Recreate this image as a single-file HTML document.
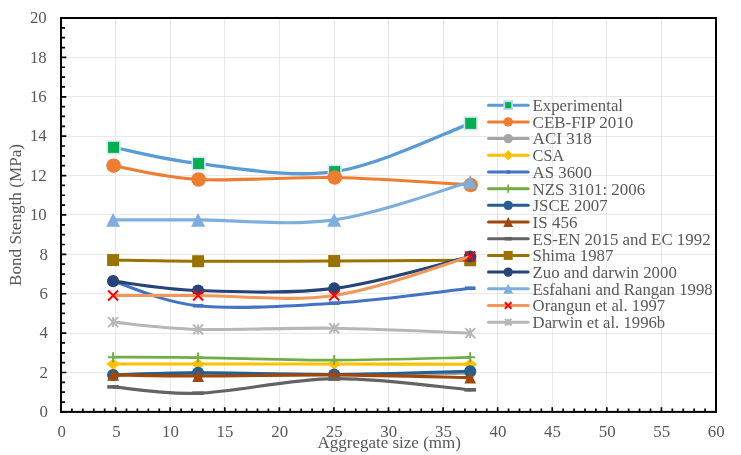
<!DOCTYPE html>
<html><head><meta charset="utf-8"><title>Bond Strength vs Aggregate size</title>
<style>html,body{margin:0;padding:0;background:#fff}svg{display:block}</style></head>
<body>
<svg width="741" height="455" viewBox="0 0 741 455" font-family="'Liberation Serif', serif" font-size="16.2" fill="#595959">
<rect width="741" height="455" fill="#fff"/>
<path d="M115.50,18.00 V411.90 M170.50,18.00 V411.90 M224.50,18.00 V411.90 M279.50,18.00 V411.90 M334.50,18.00 V411.90 M388.50,18.00 V411.90 M443.50,18.00 V411.90 M497.50,18.00 V411.90 M552.50,18.00 V411.90 M606.50,18.00 V411.90 M661.50,18.00 V411.90 M61.00,372.50 H716.00 M61.00,333.50 H716.00 M61.00,293.50 H716.00 M61.00,254.50 H716.00 M61.00,214.50 H716.00 M61.00,175.50 H716.00 M61.00,136.50 H716.00 M61.00,96.50 H716.00 M61.00,57.50 H716.00" stroke="#E8E8E8" stroke-width="1" fill="none"/>
<path d="M113.60,147.40 C127.77,150.09 161.75,159.51 198.60,163.55 C235.45,167.58 289.35,178.32 334.70,171.62 C380.05,164.92 448.03,131.41 470.70,123.37" stroke="#5B9BD5" stroke-width="3.3" fill="none" stroke-linecap="round" stroke-linejoin="round"/>
<rect x="107.30" y="141.10" width="12.60" height="12.60" fill="#00B050" stroke="#D3E4F4" stroke-width="1.6"/>
<rect x="192.30" y="157.25" width="12.60" height="12.60" fill="#00B050" stroke="#D3E4F4" stroke-width="1.6"/>
<rect x="328.40" y="165.32" width="12.60" height="12.60" fill="#00B050" stroke="#D3E4F4" stroke-width="1.6"/>
<rect x="464.40" y="117.07" width="12.60" height="12.60" fill="#00B050" stroke="#D3E4F4" stroke-width="1.6"/>
<path d="M113.60,165.71 C127.77,168.01 161.75,177.53 198.60,179.50 C235.45,181.47 289.35,176.61 334.70,177.53 C380.05,178.45 448.03,183.77 470.70,185.01" stroke="#ED7D31" stroke-width="3.1" fill="none" stroke-linecap="round" stroke-linejoin="round"/>
<circle cx="113.60" cy="165.71" r="7.30" fill="#ED7D31"/>
<circle cx="198.60" cy="179.50" r="7.30" fill="#ED7D31"/>
<circle cx="334.70" cy="177.53" r="7.30" fill="#ED7D31"/>
<circle cx="470.70" cy="185.01" r="7.30" fill="#ED7D31"/>
<path d="M113.10,374.87 C127.27,374.55 161.25,372.97 198.10,372.90 C234.95,372.84 288.85,374.45 334.20,374.48 C379.55,374.51 447.53,373.33 470.20,373.10" stroke="#A5A5A5" stroke-width="3.1" fill="none" stroke-linecap="round" stroke-linejoin="round"/>
<circle cx="113.10" cy="374.87" r="5.50" fill="#A5A5A5"/>
<circle cx="198.10" cy="372.90" r="5.50" fill="#A5A5A5"/>
<circle cx="334.20" cy="374.48" r="5.50" fill="#A5A5A5"/>
<circle cx="470.20" cy="373.10" r="5.50" fill="#A5A5A5"/>
<path d="M113.10,364.04 C127.27,364.04 161.25,364.04 198.10,364.04 C234.95,364.04 288.85,364.01 334.20,364.04 C379.55,364.07 447.53,364.21 470.20,364.24" stroke="#FFC000" stroke-width="3.1" fill="none" stroke-linecap="round" stroke-linejoin="round"/>
<polygon points="106.20,364.04 113.10,358.64 120.00,364.04 113.10,369.44" fill="#FFC000"/>
<polygon points="191.20,364.04 198.10,358.64 205.00,364.04 198.10,369.44" fill="#FFC000"/>
<polygon points="327.30,364.04 334.20,358.64 341.10,364.04 334.20,369.44" fill="#FFC000"/>
<polygon points="463.30,364.24 470.20,358.84 477.10,364.24 470.20,369.64" fill="#FFC000"/>
<path d="M113.10,281.13 C127.27,285.23 161.25,302.07 198.10,305.74 C234.95,309.42 288.85,306.11 334.20,303.18 C379.55,300.26 447.53,290.71 470.20,288.22" stroke="#4472C4" stroke-width="3.1" fill="none" stroke-linecap="round" stroke-linejoin="round"/>
<rect x="107.80" y="279.33" width="10.60" height="3.60" fill="#4472C4"/>
<rect x="192.80" y="303.94" width="10.60" height="3.60" fill="#4472C4"/>
<rect x="328.90" y="301.38" width="10.60" height="3.60" fill="#4472C4"/>
<rect x="464.90" y="286.42" width="10.60" height="3.60" fill="#4472C4"/>
<path d="M113.10,357.15 C127.27,357.21 161.25,357.05 198.10,357.54 C234.95,358.03 288.85,360.13 334.20,360.10 C379.55,360.07 447.53,357.80 470.20,357.34" stroke="#70AD47" stroke-width="2.7" fill="none" stroke-linecap="round" stroke-linejoin="round"/>
<path d="M108.10,357.15 H118.10 M113.10,352.15 V362.15" stroke="#70AD47" stroke-width="2.0" fill="none"/>
<path d="M193.10,357.54 H203.10 M198.10,352.54 V362.54" stroke="#70AD47" stroke-width="2.0" fill="none"/>
<path d="M329.20,360.10 H339.20 M334.20,355.10 V365.10" stroke="#70AD47" stroke-width="2.0" fill="none"/>
<path d="M465.20,357.34 H475.20 M470.20,352.34 V362.34" stroke="#70AD47" stroke-width="2.0" fill="none"/>
<path d="M113.10,375.07 C127.27,374.71 161.25,373.00 198.10,372.90 C234.95,372.81 288.85,374.74 334.20,374.48 C379.55,374.22 447.53,371.85 470.20,371.33" stroke="#255E91" stroke-width="3.1" fill="none" stroke-linecap="round" stroke-linejoin="round"/>
<circle cx="113.10" cy="375.07" r="6.05" fill="#255E91"/>
<circle cx="198.10" cy="372.90" r="6.05" fill="#255E91"/>
<circle cx="334.20" cy="374.48" r="6.05" fill="#255E91"/>
<circle cx="470.20" cy="371.33" r="6.05" fill="#255E91"/>
<path d="M113.10,374.87 C127.27,375.07 161.25,376.06 198.10,376.06 C234.95,376.06 288.85,374.61 334.20,374.87 C379.55,375.14 447.53,377.17 470.20,377.63" stroke="#9E480E" stroke-width="3.1" fill="none" stroke-linecap="round" stroke-linejoin="round"/>
<polygon points="113.10,368.92 119.00,380.82 107.20,380.82" fill="#9E480E"/>
<polygon points="198.10,370.11 204.00,382.01 192.20,382.01" fill="#9E480E"/>
<polygon points="334.20,368.92 340.10,380.82 328.30,380.82" fill="#9E480E"/>
<polygon points="470.20,371.68 476.10,383.58 464.30,383.58" fill="#9E480E"/>
<path d="M113.10,386.89 C127.27,387.94 161.25,394.57 198.10,393.19 C234.95,391.81 288.85,379.17 334.20,378.62 C379.55,378.06 447.53,387.97 470.20,389.84" stroke="#636363" stroke-width="3.1" fill="none" stroke-linecap="round" stroke-linejoin="round"/>
<rect x="107.30" y="385.09" width="11.60" height="3.60" fill="#636363"/>
<rect x="192.30" y="391.39" width="11.60" height="3.60" fill="#636363"/>
<rect x="328.40" y="376.82" width="11.60" height="3.60" fill="#636363"/>
<rect x="464.40" y="388.04" width="11.60" height="3.60" fill="#636363"/>
<path d="M113.10,260.05 C127.27,260.25 161.25,261.07 198.10,261.23 C234.95,261.40 288.85,261.20 334.20,261.04 C379.55,260.87 447.53,260.38 470.20,260.25" stroke="#997300" stroke-width="3.1" fill="none" stroke-linecap="round" stroke-linejoin="round"/>
<rect x="107.10" y="254.05" width="12.00" height="12.00" fill="#997300"/>
<rect x="192.10" y="255.23" width="12.00" height="12.00" fill="#997300"/>
<rect x="328.20" y="255.04" width="12.00" height="12.00" fill="#997300"/>
<rect x="464.20" y="254.25" width="12.00" height="12.00" fill="#997300"/>
<path d="M113.10,281.13 C127.27,282.70 161.25,289.36 198.10,290.58 C234.95,291.79 288.85,294.09 334.20,288.41 C379.55,282.73 447.53,261.82 470.20,256.51" stroke="#264478" stroke-width="3.1" fill="none" stroke-linecap="round" stroke-linejoin="round"/>
<circle cx="113.10" cy="281.13" r="6.05" fill="#264478"/>
<circle cx="198.10" cy="290.58" r="6.05" fill="#264478"/>
<circle cx="334.20" cy="288.41" r="6.05" fill="#264478"/>
<circle cx="470.20" cy="256.51" r="6.05" fill="#264478"/>
<path d="M113.10,219.87 C127.27,219.87 161.25,219.87 198.10,219.87 C234.95,219.87 288.85,226.21 334.20,219.87 C379.55,213.54 447.53,188.20 470.20,181.86" stroke="#7CAFDD" stroke-width="3.1" fill="none" stroke-linecap="round" stroke-linejoin="round"/>
<polygon points="113.10,212.92 120.10,226.82 106.10,226.82" fill="#7CAFDD"/>
<polygon points="198.10,212.92 205.10,226.82 191.10,226.82" fill="#7CAFDD"/>
<polygon points="334.20,212.92 341.20,226.82 327.20,226.82" fill="#7CAFDD"/>
<polygon points="470.20,174.91 477.20,188.81 463.20,188.81" fill="#7CAFDD"/>
<path d="M113.10,295.50 C127.27,295.50 161.25,295.50 198.10,295.50 C234.95,295.50 288.85,302.00 334.20,295.50 C379.55,289.00 447.53,263.01 470.20,256.51" stroke="#F1975A" stroke-width="3.1" fill="none" stroke-linecap="round" stroke-linejoin="round"/>
<path d="M108.10,290.50 L118.10,300.50 M108.10,300.50 L118.10,290.50" stroke="#FF0000" stroke-width="2.0" fill="none"/>
<path d="M193.10,290.50 L203.10,300.50 M193.10,300.50 L203.10,290.50" stroke="#FF0000" stroke-width="2.0" fill="none"/>
<path d="M329.20,290.50 L339.20,300.50 M329.20,300.50 L339.20,290.50" stroke="#FF0000" stroke-width="2.0" fill="none"/>
<path d="M465.20,251.51 L475.20,261.51 M465.20,261.51 L475.20,251.51" stroke="#FF0000" stroke-width="2.0" fill="none"/>
<path d="M113.10,322.09 C127.27,323.31 161.25,328.36 198.10,329.38 C234.95,330.40 288.85,327.57 334.20,328.20 C379.55,328.82 447.53,332.30 470.20,333.12" stroke="#B7B7B7" stroke-width="3.1" fill="none" stroke-linecap="round" stroke-linejoin="round"/>
<path d="M108.10,317.09 L118.10,327.09 M108.10,327.09 L118.10,317.09 M113.10,317.09 V327.09" stroke="#B7B7B7" stroke-width="2.0" fill="none"/>
<path d="M193.10,324.38 L203.10,334.38 M193.10,334.38 L203.10,324.38 M198.10,324.38 V334.38" stroke="#B7B7B7" stroke-width="2.0" fill="none"/>
<path d="M329.20,323.20 L339.20,333.20 M329.20,333.20 L339.20,323.20 M334.20,323.20 V333.20" stroke="#B7B7B7" stroke-width="2.0" fill="none"/>
<path d="M465.20,328.12 L475.20,338.12 M465.20,338.12 L475.20,328.12 M470.20,328.12 V338.12" stroke="#B7B7B7" stroke-width="2.0" fill="none"/>
<path d="M61.00,411.90 h5.30 M61.00,402.05 h4.00 M61.00,392.20 h4.00 M61.00,382.36 h4.00 M61.00,372.51 h5.30 M61.00,362.66 h4.00 M61.00,352.81 h4.00 M61.00,342.97 h4.00 M61.00,333.12 h5.30 M61.00,323.27 h4.00 M61.00,313.42 h4.00 M61.00,303.58 h4.00 M61.00,293.73 h5.30 M61.00,283.88 h4.00 M61.00,274.03 h4.00 M61.00,264.19 h4.00 M61.00,254.34 h5.30 M61.00,244.49 h4.00 M61.00,234.64 h4.00 M61.00,224.80 h4.00 M61.00,214.95 h5.30 M61.00,205.10 h4.00 M61.00,195.25 h4.00 M61.00,185.41 h4.00 M61.00,175.56 h5.30 M61.00,165.71 h4.00 M61.00,155.87 h4.00 M61.00,146.02 h4.00 M61.00,136.17 h5.30 M61.00,126.32 h4.00 M61.00,116.47 h4.00 M61.00,106.63 h4.00 M61.00,96.78 h5.30 M61.00,86.93 h4.00 M61.00,77.09 h4.00 M61.00,67.24 h4.00 M61.00,57.39 h5.30 M61.00,47.54 h4.00 M61.00,37.69 h4.00 M61.00,27.85 h4.00 M61.00,18.00 h5.30 M61.00,411.90 v-4.60 M71.92,411.90 v-3.30 M82.83,411.90 v-3.30 M93.75,411.90 v-3.30 M104.67,411.90 v-3.30 M115.58,411.90 v-4.60 M126.50,411.90 v-3.30 M137.42,411.90 v-3.30 M148.33,411.90 v-3.30 M159.25,411.90 v-3.30 M170.17,411.90 v-4.60 M181.08,411.90 v-3.30 M192.00,411.90 v-3.30 M202.92,411.90 v-3.30 M213.83,411.90 v-3.30 M224.75,411.90 v-4.60 M235.67,411.90 v-3.30 M246.58,411.90 v-3.30 M257.50,411.90 v-3.30 M268.42,411.90 v-3.30 M279.33,411.90 v-4.60 M290.25,411.90 v-3.30 M301.17,411.90 v-3.30 M312.08,411.90 v-3.30 M323.00,411.90 v-3.30 M333.92,411.90 v-4.60 M344.83,411.90 v-3.30 M355.75,411.90 v-3.30 M366.67,411.90 v-3.30 M377.58,411.90 v-3.30 M388.50,411.90 v-4.60 M399.42,411.90 v-3.30 M410.33,411.90 v-3.30 M421.25,411.90 v-3.30 M432.17,411.90 v-3.30 M443.08,411.90 v-4.60 M454.00,411.90 v-3.30 M464.92,411.90 v-3.30 M475.83,411.90 v-3.30 M486.75,411.90 v-3.30 M497.67,411.90 v-4.60 M508.58,411.90 v-3.30 M519.50,411.90 v-3.30 M530.42,411.90 v-3.30 M541.33,411.90 v-3.30 M552.25,411.90 v-4.60 M563.17,411.90 v-3.30 M574.08,411.90 v-3.30 M585.00,411.90 v-3.30 M595.92,411.90 v-3.30 M606.83,411.90 v-4.60 M617.75,411.90 v-3.30 M628.67,411.90 v-3.30 M639.58,411.90 v-3.30 M650.50,411.90 v-3.30 M661.42,411.90 v-4.60 M672.33,411.90 v-3.30 M683.25,411.90 v-3.30 M694.17,411.90 v-3.30 M705.08,411.90 v-3.30 M716.00,411.90 v-4.60" stroke="#000" stroke-width="1.7" fill="none"/>
<rect x="61.00" y="18.00" width="655.00" height="393.90" fill="none" stroke="#000" stroke-width="2"/>
<text x="39.58" y="417.10" textLength="8.42" lengthAdjust="spacingAndGlyphs">0</text>
<text x="39.58" y="377.71" textLength="8.42" lengthAdjust="spacingAndGlyphs">2</text>
<text x="39.58" y="338.32" textLength="8.42" lengthAdjust="spacingAndGlyphs">4</text>
<text x="39.58" y="298.93" textLength="8.42" lengthAdjust="spacingAndGlyphs">6</text>
<text x="39.58" y="259.54" textLength="8.42" lengthAdjust="spacingAndGlyphs">8</text>
<text x="29.95" y="220.15" textLength="16.85" lengthAdjust="spacingAndGlyphs">10</text>
<text x="29.95" y="180.76" textLength="16.85" lengthAdjust="spacingAndGlyphs">12</text>
<text x="29.95" y="141.37" textLength="16.85" lengthAdjust="spacingAndGlyphs">14</text>
<text x="29.95" y="101.98" textLength="16.85" lengthAdjust="spacingAndGlyphs">16</text>
<text x="29.95" y="62.59" textLength="16.85" lengthAdjust="spacingAndGlyphs">18</text>
<text x="29.95" y="23.20" textLength="16.85" lengthAdjust="spacingAndGlyphs">20</text>
<text x="57.59" y="437.2" textLength="8.42" lengthAdjust="spacingAndGlyphs">0</text>
<text x="112.17" y="437.2" textLength="8.42" lengthAdjust="spacingAndGlyphs">5</text>
<text x="162.04" y="437.2" textLength="16.85" lengthAdjust="spacingAndGlyphs">10</text>
<text x="216.63" y="437.2" textLength="16.85" lengthAdjust="spacingAndGlyphs">15</text>
<text x="271.21" y="437.2" textLength="16.85" lengthAdjust="spacingAndGlyphs">20</text>
<text x="325.79" y="437.2" textLength="16.85" lengthAdjust="spacingAndGlyphs">25</text>
<text x="380.38" y="437.2" textLength="16.85" lengthAdjust="spacingAndGlyphs">30</text>
<text x="434.96" y="437.2" textLength="16.85" lengthAdjust="spacingAndGlyphs">35</text>
<text x="489.54" y="437.2" textLength="16.85" lengthAdjust="spacingAndGlyphs">40</text>
<text x="544.13" y="437.2" textLength="16.85" lengthAdjust="spacingAndGlyphs">45</text>
<text x="598.71" y="437.2" textLength="16.85" lengthAdjust="spacingAndGlyphs">50</text>
<text x="653.29" y="437.2" textLength="16.85" lengthAdjust="spacingAndGlyphs">55</text>
<text x="707.88" y="437.2" textLength="16.85" lengthAdjust="spacingAndGlyphs">60</text>
<text x="389.2" y="448" text-anchor="middle" textLength="143.4" lengthAdjust="spacingAndGlyphs">Aggregate size (mm)</text>
<text transform="translate(21.0,215) rotate(-90)" text-anchor="middle" textLength="142" lengthAdjust="spacingAndGlyphs">Bond Stength (MPa)</text>
<path d="M488.5,105.20 H528.2" stroke="#5B9BD5" stroke-width="3.0" stroke-linecap="round" fill="none"/>
<rect x="504.30" y="101.30" width="7.80" height="7.80" fill="#00B050" stroke="#BDD7EE" stroke-width="1.8"/>
<text x="532.6" y="111.10" textLength="90.4" lengthAdjust="spacingAndGlyphs">Experimental</text>
<path d="M488.5,121.89 H528.2" stroke="#ED7D31" stroke-width="3.0" stroke-linecap="round" fill="none"/>
<circle cx="508.20" cy="121.89" r="4.70" fill="#ED7D31"/>
<text x="532.6" y="127.79" textLength="100.6" lengthAdjust="spacingAndGlyphs">CEB-FIP 2010</text>
<path d="M488.5,138.58 H528.2" stroke="#A5A5A5" stroke-width="3.0" stroke-linecap="round" fill="none"/>
<circle cx="508.20" cy="138.58" r="4.70" fill="#A5A5A5"/>
<text x="532.6" y="144.48" textLength="59.3" lengthAdjust="spacingAndGlyphs">ACI 318</text>
<path d="M488.5,155.27 H528.2" stroke="#FFC000" stroke-width="3.0" stroke-linecap="round" fill="none"/>
<polygon points="503.20,155.27 508.20,150.07 513.20,155.27 508.20,160.47" fill="#FFC000"/>
<text x="532.6" y="161.17" textLength="31.5" lengthAdjust="spacingAndGlyphs">CSA</text>
<path d="M488.5,171.96 H528.2" stroke="#4472C4" stroke-width="3.0" stroke-linecap="round" fill="none"/>
<rect x="506.40" y="170.16" width="3.60" height="3.60" fill="#4472C4"/>
<text x="532.6" y="177.86" textLength="59.3" lengthAdjust="spacingAndGlyphs">AS 3600</text>
<path d="M488.5,188.65 H528.2" stroke="#70AD47" stroke-width="3.0" stroke-linecap="round" fill="none"/>
<path d="M504.10,188.65 H512.30 M508.20,184.55 V192.75" stroke="#70AD47" stroke-width="1.8" fill="none"/>
<text x="532.6" y="194.55" textLength="112.5" lengthAdjust="spacingAndGlyphs">NZS 3101: 2006</text>
<path d="M488.5,205.34 H528.2" stroke="#255E91" stroke-width="3.0" stroke-linecap="round" fill="none"/>
<circle cx="508.20" cy="205.34" r="4.70" fill="#255E91"/>
<text x="532.6" y="211.24" textLength="75.0" lengthAdjust="spacingAndGlyphs">JSCE 2007</text>
<path d="M488.5,222.03 H528.2" stroke="#9E480E" stroke-width="3.0" stroke-linecap="round" fill="none"/>
<polygon points="508.20,217.03 513.10,227.03 503.30,227.03" fill="#9E480E"/>
<text x="532.6" y="227.93" textLength="44.9" lengthAdjust="spacingAndGlyphs">IS 456</text>
<path d="M488.5,238.72 H528.2" stroke="#636363" stroke-width="3.0" stroke-linecap="round" fill="none"/>
<rect x="504.70" y="236.92" width="7.00" height="3.60" fill="#636363"/>
<text x="532.6" y="244.62" textLength="178.0" lengthAdjust="spacingAndGlyphs">ES-EN 2015 and EC 1992</text>
<path d="M488.5,255.41 H528.2" stroke="#997300" stroke-width="3.0" stroke-linecap="round" fill="none"/>
<rect x="503.70" y="250.91" width="9.00" height="9.00" fill="#997300"/>
<text x="532.6" y="261.31" textLength="80.8" lengthAdjust="spacingAndGlyphs">Shima 1987</text>
<path d="M488.5,272.10 H528.2" stroke="#264478" stroke-width="3.0" stroke-linecap="round" fill="none"/>
<circle cx="508.20" cy="272.10" r="4.70" fill="#264478"/>
<text x="532.6" y="278.00" textLength="144.2" lengthAdjust="spacingAndGlyphs">Zuo and darwin 2000</text>
<path d="M488.5,288.79 H528.2" stroke="#7CAFDD" stroke-width="3.0" stroke-linecap="round" fill="none"/>
<polygon points="508.20,283.79 513.10,293.79 503.30,293.79" fill="#7CAFDD"/>
<text x="532.6" y="294.69" textLength="180.1" lengthAdjust="spacingAndGlyphs">Esfahani and Rangan 1998</text>
<path d="M488.5,305.48 H528.2" stroke="#F1975A" stroke-width="3.0" stroke-linecap="round" fill="none"/>
<path d="M504.90,302.18 L511.50,308.78 M504.90,308.78 L511.50,302.18" stroke="#FF0000" stroke-width="2.0" fill="none"/>
<text x="532.6" y="311.38" textLength="132.6" lengthAdjust="spacingAndGlyphs">Orangun et al. 1997</text>
<path d="M488.5,322.17 H528.2" stroke="#B7B7B7" stroke-width="3.0" stroke-linecap="round" fill="none"/>
<path d="M504.90,318.87 L511.50,325.47 M504.90,325.47 L511.50,318.87 M508.20,318.87 V325.47" stroke="#B7B7B7" stroke-width="2.0" fill="none"/>
<text x="532.6" y="328.07" textLength="132.6" lengthAdjust="spacingAndGlyphs">Darwin et al. 1996b</text>
</svg>
</body></html>
